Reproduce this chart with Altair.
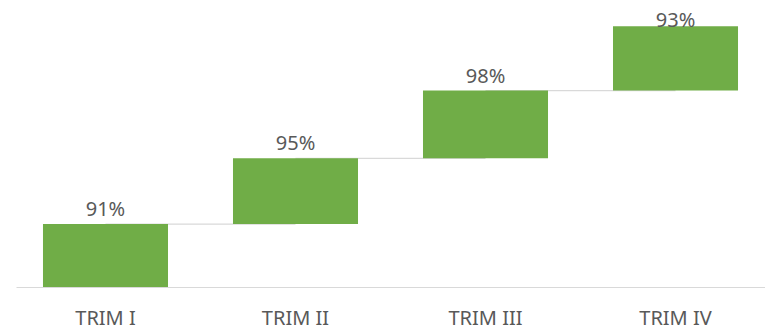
import altair as alt
import pandas as pd

categories = ["TRIM I", "TRIM II", "TRIM III", "TRIM IV"]
values = [91, 95, 98, 93]
labels = [f"{v}%" for v in values]

ends = pd.Series(values).cumsum().tolist()
starts = [e - v for e, v in zip(ends, values)]

Y_MAX = 415          # top of the value scale
LABEL_GAP = 11.6     # gap between bar top and its label, in value units
LABEL_CAP = 376      # labels are kept inside the chart area

df = pd.DataFrame({
    "cat": categories,
    "start": starts,
    "end": ends,
    "label": labels,
    "labelY": [min(e + LABEL_GAP, LABEL_CAP) for e in ends],
})

conn = pd.DataFrame({
    "cat": categories[:-1],
    "next": categories[1:],
    "level": ends[:-1],
})

xscale = alt.Scale(domain=categories, paddingInner=0.342, paddingOuter=0.142)
yscale = alt.Scale(domain=[0, Y_MAX], nice=False, zero=False)

x_axis = alt.Axis(
    title=None, labelAngle=0, ticks=False, labelPadding=21,
    labelFontSize=20, labelColor="#595959", labelFont="Noto Sans",
    domainColor="#D9D9D9", domainWidth=1.2, grid=False,
)

bars = alt.Chart(df).mark_bar(color="#70AD47").encode(
    x=alt.X("cat:N", scale=xscale, axis=x_axis),
    y=alt.Y("start:Q", scale=yscale, axis=None),
    y2="end:Q",
)

connectors = alt.Chart(conn).mark_rule(color="#D9D9D9", strokeWidth=1.2).encode(
    x=alt.X("cat:N", scale=xscale, axis=x_axis),
    x2=alt.X2("next:N"),
    y=alt.Y("level:Q", scale=yscale, axis=None),
)

text = alt.Chart(df).mark_text(
    baseline="alphabetic", fontSize=20, font="Noto Sans", color="#595959"
).encode(
    x=alt.X("cat:N", scale=xscale, axis=x_axis),
    y=alt.Y("labelY:Q", scale=yscale, axis=None),
    text="label:N",
)

chart = alt.layer(connectors, bars, text).properties(
    width=749, height=287,
    autosize=alt.AutoSizeParams(type="none"),
    padding={"left": 16, "top": 0, "right": 0, "bottom": 43},
).configure_view(stroke=None)

chart.save("out.html", embed_options={"renderer": "svg", "actions": False})
